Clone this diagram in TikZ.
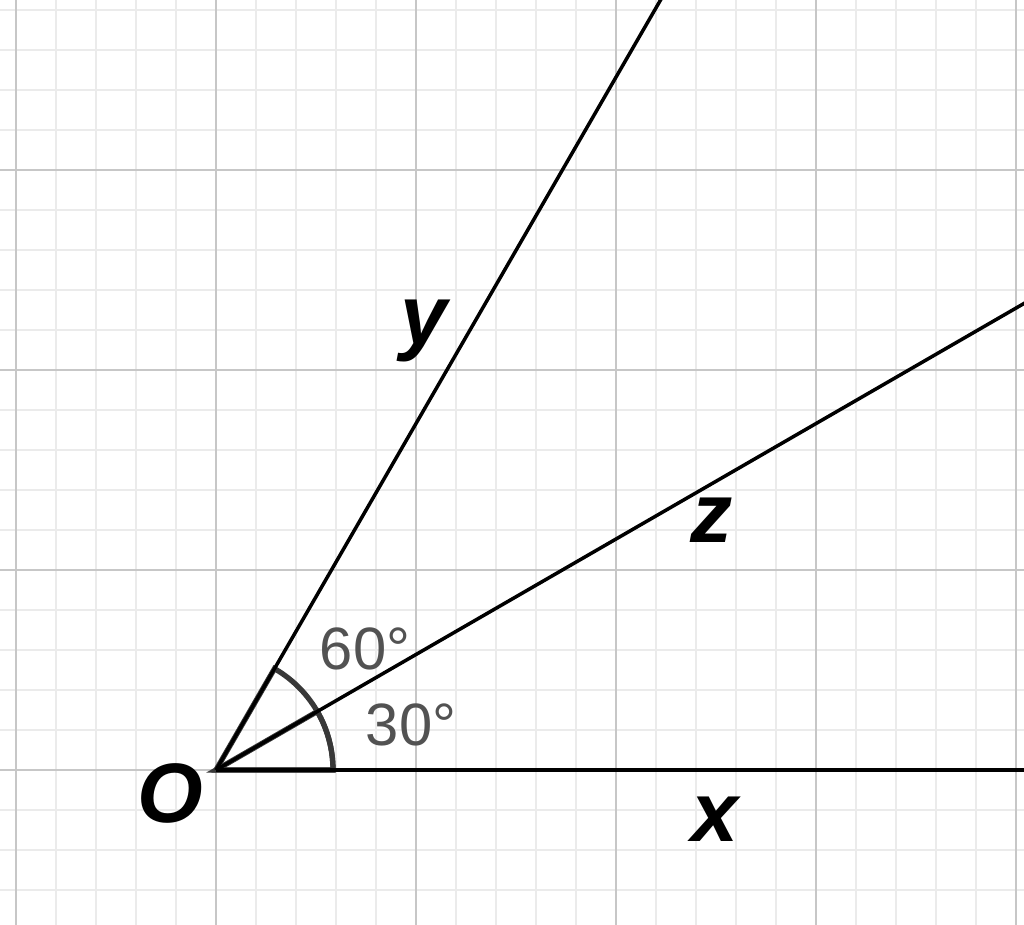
\documentclass[tikz,border=0pt]{standalone}
\usepackage{fontspec}
\setsansfont{Liberation Sans}
\usepackage{tikz}
\usetikzlibrary{positioning}

\begin{document}
\begin{tikzpicture}[
  ray/.style={black,line width=1pt},
  anglemark/.style={draw=black!78,line width=1.5pt},
  lbl/.style={font=\sffamily\bfseries\itshape\fontsize{24}{24}\selectfont,anchor=base},
  deglbl/.style={font=\sffamily\fontsize{17}{17}\selectfont,text=black!68,anchor=base}]
\useasboundingbox (-2.16,-1.55) rectangle (8.08,7.70);
\clip (-2.16,-1.55) rectangle (8.08,7.70);
\fill[white] (-2.16,-1.55) rectangle (8.08,7.70);
\draw[black!8,line width=0.55pt] (-2.4,-1.6) grid[step=0.4] (8.4,8);
\draw[black!22,line width=0.65pt] (-2.4,-1.6) grid[step=2] (8.4,8);

\coordinate (O) at (0,0);
\coordinate (X) at (0:8.3);
\coordinate (Z) at (30:9.6);
\coordinate (Y) at (60:9);

\draw[anglemark] (O) -- (0:1.17) arc[start angle=0,end angle=60,radius=1.17] -- cycle;
\draw[anglemark] (O) -- (0:1.17) arc[start angle=0,end angle=30,radius=1.17] -- cycle;

\draw[ray] (O) -- (X);
\draw[ray] (O) -- (Z);
\draw[ray] (O) -- (Y);

\node[lbl] (o) at (-0.46,-0.53) {O};
\node[lbl] (x) at (4.99,-0.72) {x};
\node[lbl] (y) at (2.08,4.25) {y};
\node[lbl] (z) at (4.96,2.27) {z};
\node[deglbl] (a60) at (1.49,1.00) {60°};
\node[deglbl] (a30) at (1.95,0.24) {30°};

\end{tikzpicture}
\end{document}
